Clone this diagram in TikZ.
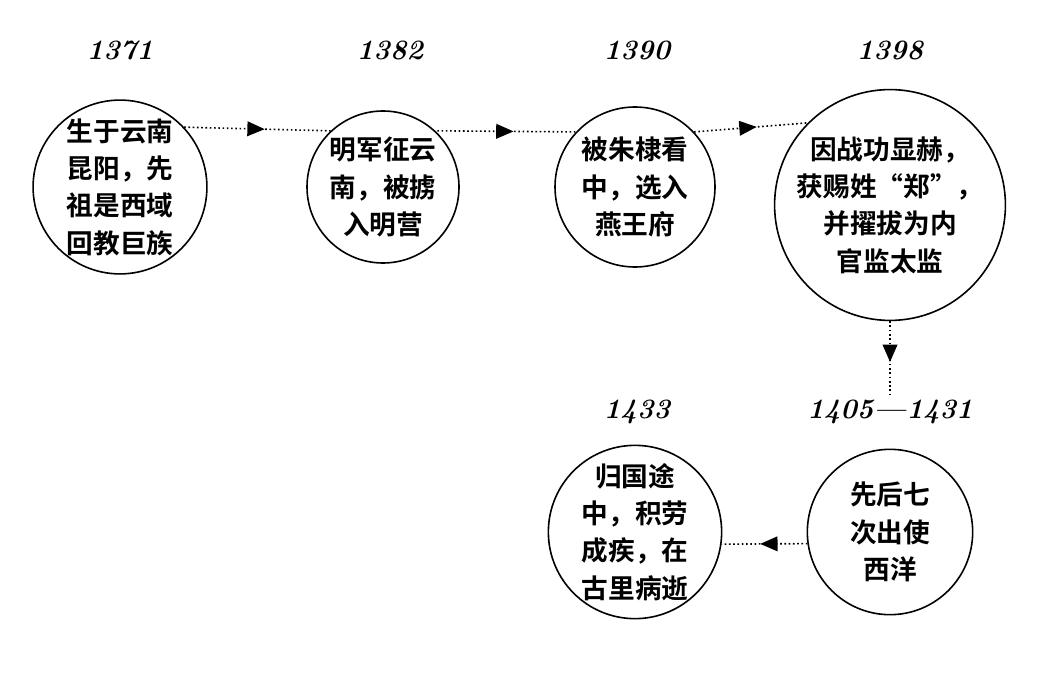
\documentclass[tikz,border=0pt]{standalone}
\usepackage{fontspec}
\newfontfamily\cjk{Noto Sans CJK SC}[BoldFont={* Bold}]
\usetikzlibrary{arrows.meta,decorations.markings}
\tikzset{
  event/.style={circle,draw,line width=1.2pt,minimum size=120pt,inner sep=0pt,
    align=center,font=\cjk\bfseries\fontsize{20}{28}\selectfont},
  year/.style={font=\bfseries\itshape\fontsize{21}{24}\selectfont},
  link/.style={dotted,line width=1.2pt,decoration={markings,
    mark=at position 0.55 with {\arrow{Triangle[length=13pt,width=11pt]}}},postaction={decorate}}
}
\begin{document}
\begin{tikzpicture}[x=0.75pt,y=0.75pt,yscale=-1,xscale=1]
\useasboundingbox (0,0) rectangle (1038,681);

% years
\node[year] (y1) at (120,50) {1371};
\node[year] (y2) at (390,50) {1382};
\node[year] (y3) at (637,50) {1390};
\node[year] (y4) at (890,50) {1398};
\node[year] (y5) at (890,412) {1405---1431};
\node[year] (y6) at (637,412) {1433};

% events
\node[event] (e1) at (120,187) {生于云南\\昆阳，先\\祖是西域\\回教巨族};
\node[event,minimum size=114pt] (e2) at (383,187) {明军征云\\南，被掳\\入明营};
\node[event] (e3) at (635,187) {被朱棣看\\中，选入\\燕王府};
\node[event,minimum size=155pt] (e4) at (890,205) {因战功显赫，\\获赐姓“郑”，\\并擢拔为内\\官监太监};
\node[event,minimum size=124pt] (e5) at (890,532) {先后七\\次出使\\西洋};
\node[event] (e6) at (635,532) {归国途\\中，积劳\\成疾，在\\古里病逝};

% links
\draw[link] (e1.43) -- (e2.133);
\draw[link] (e2.133 -| e2.45) -- (e3.137);
\draw[link] (e3.43) -- (e4.135);
\draw[link] (e4.south) -- (y5.north);
\draw[link] (e5.188) -- (e6.-8);
\end{tikzpicture}
\end{document}
